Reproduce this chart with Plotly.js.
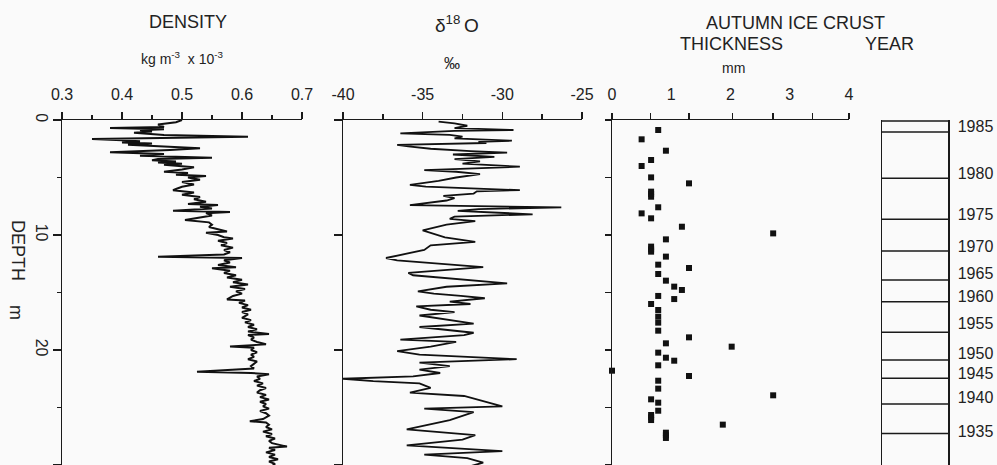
<!DOCTYPE html>
<html><head><meta charset="utf-8">
<script src="https://cdn.plot.ly/plotly-3.0.1.min.js"></script>
<style>html,body{margin:0;padding:0;background:#fafafa}#chart{width:997px;height:465px}</style>
</head><body><div id="chart"></div>
<script>
// ---------- DATA ----------
const densityDepth = [0.0,0.2,0.4,0.6,0.7,0.8,0.9,1.0,1.1,1.2,1.3,1.45,1.55,1.65,1.75,1.85,1.95,2.05,2.15,2.25,2.35,2.45,2.6,2.8,2.95,3.1,3.28,3.4,3.5,3.6,3.7,3.8,3.9,4.0,4.1,4.3,4.5,4.6,4.75,4.87,5.0,5.2,5.4,5.6,5.8,6.0,6.1,6.3,6.5,6.7,6.9,7.1,7.3,7.4,7.55,7.7,7.9,8.0,8.1,8.3,8.5,8.7,8.9,9.1,9.3,9.5,9.7,9.8,10.0,10.2,10.3,10.5,10.7,10.9,11.1,11.3,11.5,11.7,11.9,12.0,12.2,12.4,12.6,12.8,12.9,13.1,13.3,13.5,13.7,13.9,14.1,14.3,14.5,14.7,14.9,15.1,15.3,15.6,15.7,15.9,16.1,16.3,16.5,16.7,16.9,17.2,17.4,17.6,17.8,18.0,18.2,18.4,18.6,18.7,18.9,19.1,19.3,19.5,19.7,19.8,20.0,20.2,20.4,20.6,20.8,21.0,21.2,21.4,21.6,21.9,22.0,22.1,22.3,22.5,22.7,22.9,23.1,23.3,23.5,23.7,23.9,24.1,24.3,24.5,24.7,24.9,25.1,25.3,25.5,25.7,26.0,26.2,26.3,26.5,26.7,26.9,27.1,27.3,27.5,27.7,27.9,28.1,28.4,28.5,28.7,28.9,29.1,29.3,29.5,29.7,29.9,30.1];
const densityValue = [0.50,0.49,0.46,0.47,0.38,0.47,0.43,0.45,0.42,0.44,0.47,0.61,0.47,0.35,0.40,0.43,0.40,0.45,0.41,0.46,0.49,0.53,0.48,0.38,0.47,0.43,0.55,0.46,0.45,0.49,0.46,0.50,0.47,0.49,0.52,0.50,0.47,0.51,0.49,0.54,0.51,0.53,0.50,0.52,0.50,0.49,0.485,0.52,0.50,0.53,0.52,0.54,0.51,0.56,0.53,0.55,0.485,0.58,0.54,0.55,0.53,0.505,0.545,0.55,0.545,0.56,0.575,0.54,0.56,0.57,0.585,0.56,0.575,0.565,0.585,0.57,0.58,0.57,0.46,0.60,0.57,0.58,0.56,0.59,0.55,0.58,0.57,0.59,0.575,0.60,0.585,0.61,0.58,0.605,0.59,0.60,0.585,0.575,0.605,0.595,0.61,0.60,0.615,0.60,0.61,0.60,0.615,0.605,0.62,0.61,0.625,0.61,0.645,0.61,0.62,0.615,0.625,0.64,0.58,0.62,0.615,0.625,0.615,0.62,0.61,0.625,0.62,0.615,0.62,0.525,0.615,0.645,0.625,0.63,0.62,0.635,0.625,0.64,0.63,0.625,0.64,0.63,0.645,0.63,0.64,0.635,0.645,0.63,0.64,0.645,0.635,0.613,0.64,0.645,0.64,0.65,0.635,0.65,0.64,0.655,0.645,0.65,0.675,0.645,0.655,0.64,0.655,0.645,0.66,0.645,0.655,0.65];

const isoDepth = [0.15,0.3,0.5,0.7,0.87,0.95,1.16,1.3,1.45,1.6,1.8,1.9,2.0,2.17,2.3,2.5,2.7,2.84,3.0,3.2,3.4,3.6,3.8,4.06,4.35,4.5,4.7,5.0,5.3,5.65,5.8,6.1,6.2,6.4,6.6,6.8,7.0,7.4,7.6,7.75,7.9,8.2,8.4,8.6,8.8,9.1,9.6,9.9,10.2,10.6,10.9,11.3,12.0,12.2,12.8,13.3,13.5,14.2,14.5,14.9,15.1,15.3,15.5,15.8,16.0,16.2,16.5,16.7,17.0,17.7,18.0,18.5,18.7,19.1,19.3,19.7,20.1,20.4,20.8,21.1,21.4,21.7,22.0,22.3,22.5,22.7,22.9,23.3,23.7,24.0,24.3,24.9,25.1,25.4,26.1,26.9,27.4,27.8,28.3,28.8,29.1,29.4,29.8,30.1];
const isoValue = [-34.0,-33.0,-32.2,-33.0,-29.3,-33.0,-36.4,-33.3,-32.5,-33.0,-29.4,-31.5,-31.0,-36.6,-35.9,-34.5,-32.0,-29.7,-33.1,-30.5,-33.0,-31.4,-32.5,-28.9,-34.9,-32.9,-31.4,-32.9,-34.0,-35.8,-34.8,-28.9,-31.6,-31.8,-33.7,-33.0,-33.5,-35.8,-26.3,-31.5,-32.8,-28.1,-33.0,-33.3,-31.7,-33.5,-35.0,-34.3,-33.6,-31.7,-34.5,-34.9,-37.3,-36.6,-31.2,-35.9,-35.6,-29.7,-33.5,-35.3,-34.3,-32.6,-31.1,-33.3,-32.0,-35.4,-34.5,-33.0,-35.2,-31.8,-35.2,-31.8,-32.4,-36.4,-32.9,-34.5,-36.6,-35.2,-29.1,-35.2,-33.3,-35.2,-33.9,-35.6,-40.0,-38.1,-35.2,-34.5,-35.8,-32.4,-31.6,-30.0,-34.9,-31.8,-33.3,-36.0,-31.7,-32.5,-36.0,-30.0,-34.9,-32.2,-31.2,-32.0];

const crustDepth = [0.87,1.68,2.67,3.48,4.0,4.99,5.51,6.23,6.43,6.67,7.59,8.12,8.55,9.28,9.86,10.38,11.01,11.25,11.45,11.88,12.58,12.87,13.39,13.97,14.49,14.78,15.3,15.57,16.0,16.52,17.1,17.62,18.32,18.9,19.42,19.71,20.23,20.67,20.93,21.33,21.8,22.26,22.67,23.36,23.94,24.29,24.58,25.28,25.65,25.85,26.09,26.49,27.19,27.42,27.65];
const crustThickness = [0.78,0.50,0.91,0.66,0.50,0.66,1.30,0.66,0.66,0.66,0.78,0.50,0.66,1.18,2.72,0.91,0.66,0.66,0.66,0.91,0.78,1.30,0.78,0.91,1.05,1.18,0.78,1.05,0.66,0.78,0.78,0.78,0.78,1.30,0.91,2.02,0.78,0.91,1.05,0.78,0.0,1.30,0.78,0.78,2.72,0.66,0.78,0.78,0.66,0.66,0.66,1.87,0.91,0.91,0.91];

const yearLineDepths = [0.09,1.04,5.07,8.64,11.39,13.91,15.8,18.46,20.87,22.46,24.7,27.25];
const yearLabels = ['1985','1980','1975','1970','1965','1960','1955','1950','1945','1940','1935'];
const yearLabelDepths = [0.52,4.6,8.17,11.0,13.3,15.3,17.7,20.3,22.0,24.1,27.1];

const densityTicks = [0.3,0.4,0.5,0.6,0.7];
const densityTickText = ['0.3','0.4','0.5','0.6','0.7'];
const isoTicks = [-40,-35,-30,-25];
const isoTickText = ['-40','-35','-30','-25'];
const crustTicks = [0,1,2,3,4];
const crustTickText = ['0','1','2','3','4'];
const depthTicks = [0,10,20,30];
const depthTickText = ['0','10','20','30'];

// ---------- LAYOUT ----------
const W = 997, H = 465, T = 120;
const FONT = 'Liberation Sans, Arial, Helvetica, sans-serif';
const INK = '#1a1a1a', TXT = '#222';
const fx = p => p / W;
const fy = p => (H - p) / (H - T);

const base = {showline:true, linecolor:INK, linewidth:1.5, showgrid:false, zeroline:false,
  tickcolor:INK, tickwidth:1.5, tickfont:{family:FONT, size:16, color:TXT}};

// year separator lines built from data
const yx = [], yy = [];
yearLineDepths.forEach(d => { yx.push(0,1,null); yy.push(d,d,null); });

const traces = [
  {x:densityValue, y:densityDepth, xaxis:'x', yaxis:'y', mode:'lines', line:{color:'#111', width:2}, hoverinfo:'skip'},
  {x:isoValue, y:isoDepth, xaxis:'x2', yaxis:'y2', mode:'lines', line:{color:'#111', width:1.8}, hoverinfo:'skip'},
  {x:crustThickness, y:crustDepth, xaxis:'x3', yaxis:'y3', mode:'markers', cliponaxis:false,
   marker:{symbol:'square', size:6, color:'#111'}, hoverinfo:'skip'},
  {x:yx, y:yy, xaxis:'x4', yaxis:'y4', mode:'lines', line:{color:INK, width:1.5}, hoverinfo:'skip'}
];

const yRange = [30, 0];
const layout = {
  width:W, height:H, margin:{l:0, r:0, t:T, b:0},
  paper_bgcolor:'#fafafa', plot_bgcolor:'#fafafa', showlegend:false,
  xaxis:{...base, domain:[fx(62), fx(302)], anchor:'y', side:'top', range:[0.3,0.7],
    tickvals:densityTicks, ticktext:densityTickText, ticks:'outside', ticklen:7, ticklabelstandoff:5,
    minor:{ticks:'outside', ticklen:4, dtick:0.05, tickcolor:INK, tickwidth:1.5}},
  yaxis:{...base, domain:[0,1], anchor:'x', range:yRange,
    tickvals:depthTicks, ticktext:depthTickText, ticks:'outside', ticklen:8, tickangle:90, ticklabelstandoff:-3,
    minor:{ticks:'outside', ticklen:4, dtick:5, tickcolor:INK, tickwidth:1.5}},
  xaxis2:{...base, domain:[fx(343), fx(582)], anchor:'y2', side:'top', range:[-40,-25],
    tickvals:isoTicks, ticktext:isoTickText, ticks:'outside', ticklen:7, ticklabelstandoff:5,
    minor:{ticks:'outside', ticklen:5, dtick:2.5, tickcolor:INK, tickwidth:1.5}},
  yaxis2:{...base, domain:[0,1], anchor:'x2', range:yRange, dtick:10, ticks:'outside', ticklen:8, showticklabels:false},
  xaxis3:{...base, domain:[fx(612), fx(849)], anchor:'y3', side:'top', range:[0,4],
    tickvals:crustTicks, ticktext:crustTickText, ticks:'', ticklabelstandoff:12,
    minor:{ticks:'outside', ticklen:6, tickvals:[0,0.65,1.3,2.03,2.72,3.38,4], tickcolor:INK, tickwidth:1.5}},
  yaxis3:{...base, domain:[0,1], anchor:'x3', range:yRange, dtick:5, ticks:'outside', ticklen:6, showticklabels:false},
  xaxis4:{domain:[fx(882), fx(948)], anchor:'y4', range:[0,1], visible:false, fixedrange:true},
  yaxis4:{...base, domain:[0,1], anchor:'x4', range:yRange, side:'right', mirror:true, ticks:'',
    tickvals:yearLabelDepths, ticktext:yearLabels, ticklabelstandoff:5},
  annotations:[
    {text:'DENSITY', x:fx(188), y:fy(22), size:18},
    {text:'kg m<sup>-3</sup>  x 10<sup>-3</sup>', x:fx(182), y:fy(58), size:14},
    {text:'δ<sup>18 </sup>O', x:fx(457), y:fy(24), size:19},
    {text:'‰', x:fx(452), y:fy(63), size:16},
    {text:'AUTUMN ICE CRUST', x:fx(795), y:fy(23), size:18},
    {text:'THICKNESS', x:fx(731), y:fy(44), size:18},
    {text:'YEAR', x:fx(889), y:fy(44), size:18},
    {text:'mm', x:fx(733), y:fy(68), size:14},
    {text:'DEPTH', x:fx(18), y:fy(250), size:18, angle:90},
    {text:'m', x:fx(16), y:fy(312), size:18, angle:90}
  ].map(a => ({text:a.text, x:a.x, y:a.y, xref:'paper', yref:'paper', xanchor:'center', yanchor:'middle',
    showarrow:false, textangle:a.angle || 0, font:{family:FONT, size:a.size, color:TXT}}))
};

Plotly.newPlot('chart', traces, layout, {staticPlot:true, displayModeBar:false});
</script>
</body></html>
